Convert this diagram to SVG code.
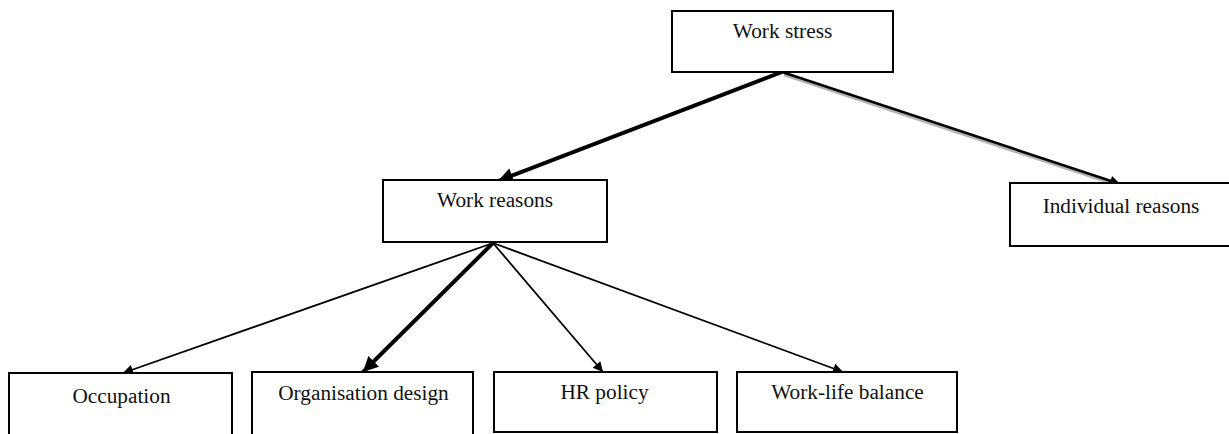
<svg xmlns="http://www.w3.org/2000/svg" width="1229" height="434" viewBox="0 0 1229 434">
  <defs>
    <marker id="head" viewBox="0 0 10 10" refX="10" refY="5" markerWidth="14" markerHeight="10" markerUnits="userSpaceOnUse" orient="auto" overflow="visible">
      <path d="M0,0 L10,5 L0,10 Z" fill="#000"/>
    </marker>
    <marker id="head-bold" viewBox="0 0 10 10" refX="10" refY="5" markerWidth="18" markerHeight="15" markerUnits="userSpaceOnUse" orient="auto" overflow="visible">
      <path d="M0,0 L10,5 L0,10 Z" fill="#000"/>
    </marker>
    <marker id="head-shadow" viewBox="0 0 10 10" refX="10" refY="5" markerWidth="14" markerHeight="10" markerUnits="userSpaceOnUse" orient="auto" overflow="visible">
      <path d="M0,0 L10,5 L0,10 Z" fill="#b4b4b4"/>
    </marker>
  </defs>
  <style>
    .box { fill: #fff; stroke: #000; stroke-width: 2; }
    .label { font-family: "Liberation Serif", "Times New Roman", serif; font-size: 21.3px; fill: #111; text-anchor: middle; }
    .thin { stroke: #000; stroke-width: 1.8; fill: none; marker-end: url(#head); }
    .medium { stroke: #000; stroke-width: 2.6; fill: none; marker-end: url(#head); }
    .bold { stroke: #000; stroke-width: 4; fill: none; marker-end: url(#head-bold); }
    .shadow { stroke: #b4b4b4; stroke-width: 2.6; fill: none; marker-end: url(#head-shadow); }
  </style>
  <rect width="1229" height="434" fill="#fff"/>

  <g id="connectors">
    <!-- top level -->
    <line class="bold" x1="782" y1="72" x2="498" y2="181"/>
    <line class="shadow" x1="784" y1="75" x2="1122" y2="187"/>
    <line class="medium" x1="782" y1="72" x2="1120" y2="184"/>
    <!-- second level -->
    <line class="thin" x1="493" y1="243" x2="123" y2="373"/>
    <line class="bold" x1="493" y1="243" x2="363" y2="372"/>
    <line class="thin" x1="493" y1="243" x2="603" y2="372"/>
    <line class="thin" x1="493" y1="243" x2="843" y2="372"/>
  </g>

  <g id="work-stress">
    <rect class="box" x="672" y="11" width="221" height="61"/>
    <text class="label" x="782.5" y="38">Work stress</text>
  </g>
  <g id="work-reasons">
    <rect class="box" x="383" y="180" width="224" height="62"/>
    <text class="label" x="495" y="207">Work reasons</text>
  </g>
  <g id="individual-reasons">
    <rect class="box" x="1010" y="183" width="222" height="63"/>
    <text class="label" x="1121" y="213">Individual reasons</text>
  </g>
  <g id="occupation">
    <rect class="box" x="9" y="373" width="223" height="64"/>
    <text class="label" x="121.5" y="403">Occupation</text>
  </g>
  <g id="organisation-design">
    <rect class="box" x="252" y="372" width="221" height="65"/>
    <text class="label" x="363.5" y="400">Organisation design</text>
  </g>
  <g id="hr-policy">
    <rect class="box" x="494" y="372" width="223" height="60"/>
    <text class="label" x="604.5" y="399">HR policy</text>
  </g>
  <g id="work-life-balance">
    <rect class="box" x="737" y="372" width="220" height="60"/>
    <text class="label" x="847.5" y="399">Work-life balance</text>
  </g>
</svg>
